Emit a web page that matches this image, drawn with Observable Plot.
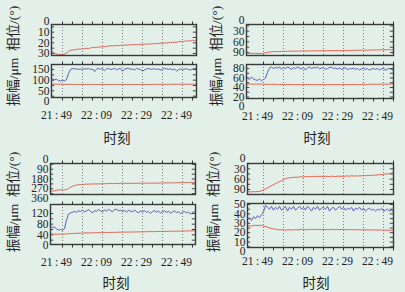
<!DOCTYPE html>
<html><head><meta charset="utf-8">
<script src="https://cdn.jsdelivr.net/npm/d3@7"></script>
<script src="https://cdn.jsdelivr.net/npm/@observablehq/plot@0.6"></script>
<style>
html,body{margin:0;padding:0;background:#e3efe9;}
#chart{position:relative;width:405px;height:292px;overflow:hidden;background:#e3efe9;font-family:"Liberation Serif","Noto Sans CJK SC",serif;color:#222;}
#chart svg{position:absolute;overflow:visible;}
.ytitle{position:absolute;white-space:nowrap;font-size:13.5px;transform:translate(-50%,-50%) rotate(-90deg);}
.xtitle{position:absolute;white-space:nowrap;font-size:13.5px;transform:translate(-50%,-50%);}
</style></head><body><div id="chart"></div>
<script>
// minutes after 21:49
const minutes = [-5,-4,-3,-2,-1,0,1,2,3,4,5,6,7,8,9,10,11,12,13,14,15,16,17,18,19,20,21,22,23,24,25,26,27,28,29,30,31,32,33,34,35,36,37,38,39,40,41,42,43,44,45,46,47,48,49,50,51,52,53,54,55,56,57,58,59,60,61,62,63,64,65,66,67,68,69,70];
const timeTickMinutes = [0,20,40,60];
const timeTickLabels = ["21\u2009:\u200949","22\u2009:\u200909","22\u2009:\u200929","22\u2009:\u200949"];
const tickMinutes = [3,8,13,18,23,28,33,38,43,48,53,58,63,68];
const gridMinutes = [3,13,23,33,43,53,63];

const yTitle = "振幅/μm\u2002相位/(°)";
const xTitle = "时刻";

// Panel 1
const p1PhaseTicks = [0,10,20,30];
const p1AmpTicks = [0,50,100,150];
const p1Phase = [28,28.5,27.8,28.2,29.5,
 30.5,31,30.8,31,30.6,29.5,28,27,26.5,26.8,
 26.2,25.8,26,25.5,25.6,25.1,25.3,24.8,24.3,24.6,
 24,24.2,23.7,23.9,23.4,23.5,23,22.6,23,22.7,
 22.4,22.8,22.2,22.5,22,22.3,21.8,22.1,21.6,21.9,
 21.5,21.8,21.3,21.6,21.1,21.4,20.9,21.2,20.7,20.9,
 20.5,20.8,20.2,20.6,20,20.3,19.8,19.5,19.9,19.3,
 19.5,19,18.6,19,18.3,18.6,18,18.3,17.6,17.9,17.4];
const p1AmpBlue = [108,105,110,106,102,
 104,98,96,100,97,103,132,150,155,152,
 154,150,153,148,154,152,155,150,153,140,
 152,155,151,154,145,153,155,150,152,156,
 148,153,155,142,152,154,156,151,153,147,
 155,152,150,143,148,153,155,151,152,154,
 150,153,147,152,155,153,150,154,148,152,
 143,150,153,148,151,154,150,147,152,155,153];
const p1AmpRed = [82,82,81.5,82,81.5,
 81,81,80.5,81,80.5,80,80.5,80,80.5,80,
 79.5,80,80.5,80,79.5,80,80,79.5,80,80.5,
 80,79.5,80,80,80.5,80,79.5,80,80,79.5,
 80,80.5,80,79.5,80,80,80.5,80,79.5,80,
 80,79.5,80,80.5,80,80,79.5,80,80.5,80,
 80,80.5,80,80,80.5,80.5,80,80.5,81,80.5,
 80.5,81,80.5,81,81,80.5,81,81,81.5,81,81];

// Panel 2
const p2PhaseTicks = [0,30,60,90];
const p2AmpTicks = [0,20,40,60,80];
const p2Phase = [92,92.5,92,93,92.5,
 93,92.5,93,92,91,89.5,88.5,88,87.5,87.8,
 87.2,87.5,86.8,87,86.5,86.8,86.2,86.5,86,86.3,
 85.8,86,85.5,85.9,85.4,85.7,85.2,85.5,85,85.4,
 85,85.3,84.8,85.2,84.7,85,84.6,84.9,84.5,84.8,
 84.4,84.7,84.2,84.6,84,84.4,83.8,84.2,83.7,84,
 83.5,83.9,83.3,83.7,83.1,83.5,82.9,83.3,82.7,83.1,
 82.6,83,82.4,82.8,82.2,82.6,82,82.4,81.8,82.2,81.8];
const p2AmpBlue = [60,57,62,58,56,
 55,58,54,57,60,72,81,83,80,82,
 81,83,79,82,80,83,81,78,82,80,
 83,81,79,82,77,81,83,80,82,81,
 83,79,81,82,78,80,82,83,80,81,
 79,81,78,80,82,77,80,79,81,78,
 80,77,79,81,78,80,76,79,80,78,
 80,77,79,81,76,79,80,78,76,79,80];
const p2AmpRed = [47,47.5,47,47,47.5,
 47,47.5,47,47,46.5,47,46.5,46.5,47,46.5,
 46.5,46,46.5,46.5,46,46.5,46.5,46,46.5,46,
 46.5,46,46,46.5,46,46,46.5,46,46,46.5,
 46,46,46.5,46,46,46.5,46,46.5,46,46,
 46.5,46,46,46.5,46,46.5,46.5,46,46.5,46.5,
 46,46.5,46.5,47,46.5,46.5,47,46.5,47,47,
 46.5,47,47,47.5,47,47,47.5,47,47.5,47.5,47];

// Panel 3
const p3PhaseTicks = [0,90,180,270,360];
const p3AmpTicks = [0,40,80,120];
const p3Phase = [292,290,294,291,289,
 284,281,279,282,280,276,268,257,247,240,
 236,233,231,229,230,227,228,226,227,225,
 226,224,225,223,224,222,223,221,223,222,
 221,222,220,221,219,221,220,219,221,220,
 219,220,218,220,219,218,219,217,219,218,
 217,218,216,218,217,215,217,216,214,216,
 215,213,215,214,212,214,213,211,212,210,211];
const p3AmpBlue = [72,68,75,66,70,
 62,58,60,57,63,95,118,122,125,128,
 124,130,127,133,125,130,134,128,122,131,
 128,135,130,126,133,129,136,131,127,134,
 136,130,133,128,131,125,132,129,126,133,
 127,122,130,126,131,124,128,120,127,131,
 125,129,122,127,130,124,128,121,126,130,
 123,127,119,125,128,122,126,118,124,127,125];
const p3AmpRed = [43,43.5,42.5,43,42,
 42.5,42,43,42.5,43,43.5,44,44.5,45,45.5,
 46,46,46.5,46.5,47,47,47.5,47,47.5,48,
 48,48.5,48,48.5,49,48.5,49,49,49.5,49,
 49.5,50,49.5,50,50,50.5,50,50.5,51,50.5,
 51,51,51.5,51,51.5,52,51.5,52,52,52.5,
 52,52.5,53,52.5,53,53,53.5,53,53.5,54,
 53.5,54,54,54.5,54,54.5,55,54.5,55,55,55.5];

// Panel 4
const p4PhaseTicks = [0,30,60,90];
const p4AmpTicks = [0,10,20,30,40,50];
const p4Phase = [97,96.5,97,96,96.5,
 96,95.5,94,91,88,85,82,79,76,73,
 70,67,64,61,58.5,57,56,55.5,55,54,
 54.5,53.5,53,54,52.5,53,52,53,52.5,51.5,
 52.5,51.5,52,53,51.5,52,52.5,51,52,52.5,
 51,52,51.5,52.5,51,50.5,51.5,50,51,50.5,
 51,50,50.5,49.5,50,49,49.5,48.5,49,48,
 47.5,47,46.5,46,45,44.5,43.5,42.5,41.5,41,40.5];
const p4AmpBlue = [34,36,33,37,35,
 38,36,39,42,49,47,45,48,44,47,
 45,48,44,46,48,43,47,45,48,44,
 46,48,45,47,44,48,46,43,47,45,
 48,44,46,47,45,48,43,46,47,44,
 46,48,45,47,44,46,45,47,43,46,
 45,47,44,46,43,45,46,44,45,43,
 45,44,46,43,44,45,43,44,42,44,43];
const p4AmpRed = [27,27.5,27,27.5,28,
 27.5,28,27.5,27,26.5,26,25,24.5,24,23.5,
 23.5,23,23.2,23,22.8,23,23.2,22.8,23,23.3,
 23,23.2,23.5,23.3,23,23.4,23.6,23.3,23.5,23.2,
 23.4,23.6,23.3,23.5,23.2,23.4,23.3,23.6,23.4,23.2,
 23.4,23.2,23.5,23.3,23.1,23.3,23.4,23.2,23,23.3,
 23.1,23.3,23,23.2,22.9,23.1,23,22.8,23,22.9,
 22.8,23,22.7,22.9,22.6,22.8,22.7,22.5,22.8,22.6,22.7];

const RED = "#e4604f", BLUE = "#5a5fb4";
const FONT = "'Liberation Serif','Noto Sans CJK SC',serif";

const panels = [
 {box:[0,0,200,146], xDomain:[-2.5,70], xLabelPad:13.5, ytitle:[12,56], xtitle:[117,137],
  upper:{frame:[51,196,24,55], yDomain:[0,30], yPix:[21,53], ticks:p1PhaseTicks, series:[[p1Phase,RED]]},
  lower:{frame:[51,196,64,97], yDomain:[0,150], yPix:[101,69], ticks:p1AmpTicks, series:[[p1AmpRed,RED],[p1AmpBlue,BLUE]]}},
 {box:[200,0,205,146], xDomain:[-5.5,68], xLabelPad:13.5, ytitle:[215,56], xtitle:[317,137],
  upper:{frame:[246,393,24,55], yDomain:[0,90], yPix:[20,52], ticks:p2PhaseTicks, series:[[p2Phase,RED]]},
  lower:{frame:[246,393,64,98], yDomain:[0,80], yPix:[106,68], ticks:p2AmpTicks, series:[[p2AmpRed,RED],[p2AmpBlue,BLUE]]}},
 {box:[0,146,200,146], xDomain:[-3,69.5], xLabelPad:13.5, ytitle:[12,202], xtitle:[116,282],
  upper:{frame:[50,195,163,194], yDomain:[0,360], yPix:[159,198], ticks:p3PhaseTicks, series:[[p3Phase,RED]]},
  lower:{frame:[50,195,204,244], yDomain:[0,120], yPix:[245,213], ticks:p3AmpTicks, series:[[p3AmpRed,RED],[p3AmpBlue,BLUE]]}},
 {box:[200,146,205,146], xDomain:[-5,68], xLabelPad:9.5, ytitle:[212,202], xtitle:[316,282],
  upper:{frame:[247,393,163,194], yDomain:[0,90], yPix:[158,189], ticks:p4PhaseTicks, series:[[p4Phase,RED]]},
  lower:{frame:[247,393,203,247], yDomain:[0,50], yPix:[251,204], ticks:p4AmpTicks, series:[[p4AmpRed,RED],[p4AmpBlue,BLUE]]}}
];

const chart = document.getElementById("chart");

function minorOf(ticks) {
  const out = [...ticks];
  d3.pairs(ticks).forEach(([a,b]) => out.push((a+b)/2));
  return out;
}

function makeSub(panel, sub, isLower) {
  const [bx, by, bw, bh] = panel.box;
  const [fx0, fx1, fy0, fy1] = sub.frame;
  const [xd0, xd1] = panel.xDomain;
  const minor = minorOf(sub.ticks);
  const marks = [
    Plot.gridX(gridMinutes, {stroke:"#555", strokeOpacity:0.75, strokeDasharray:"1,2", strokeWidth:1}),
    Plot.ruleY(minor, {y:d=>d, x1:xd0, x2:xd0+1.6, stroke:"#444", clip:true}),
    Plot.ruleY(minor, {y:d=>d, x1:xd1-1.6, x2:xd1, stroke:"#444", clip:true}),
    ...sub.series.map(([vals, color]) => Plot.line(minutes.map((t,i)=>({t, v:vals[i]})), {x:"t", y:"v", stroke:color, strokeWidth:1, clip:true})),
    Plot.frame({stroke:"#3a3a3a", strokeWidth:1.4}),
    Plot.axisX({anchor:"top", ticks:tickMinutes, tickSize:3.5, tickFormat:()=>"", label:null, stroke:"#333"}),
    Plot.axisY({anchor:"left", ticks:sub.ticks, tickSize:0, tickPadding:2, label:null, fill:"#222", fontSize:11.5})
  ];
  if (isLower) {
    marks.push(Plot.axisX({anchor:"bottom", ticks:tickMinutes, tickSize:3.5, tickFormat:()=>"", label:null, stroke:"#333"}));
    marks.push(Plot.axisX({anchor:"bottom", ticks:timeTickMinutes, tickSize:0, tickPadding:panel.xLabelPad,
      tickFormat:d=>timeTickLabels[timeTickMinutes.indexOf(d)], label:null, fill:"#222", fontSize:11.5}));
  }
  const svg = Plot.plot({
    width:bw, height:bh,
    marginLeft:fx0-bx, marginRight:bx+bw-fx1, marginTop:fy0-by, marginBottom:by+bh-fy1,
    x:{domain:[xd0, xd1]},
    y:{domain:sub.yDomain, range:[sub.yPix[0]-by, sub.yPix[1]-by]},
    style:{background:"transparent", fontFamily:FONT, fontSize:"12px", color:"#222", overflow:"visible"},
    marks
  });
  svg.style.left = bx + "px";
  svg.style.top = by + "px";
  chart.append(svg);
}

panels.forEach(p => {
  makeSub(p, p.upper, false);
  makeSub(p, p.lower, true);
  const yt = document.createElement("div");
  yt.className = "ytitle"; yt.textContent = yTitle;
  yt.style.left = p.ytitle[0] + "px"; yt.style.top = p.ytitle[1] + "px";
  chart.append(yt);
  const xt = document.createElement("div");
  xt.className = "xtitle"; xt.textContent = xTitle;
  xt.style.left = p.xtitle[0] + "px"; xt.style.top = p.xtitle[1] + "px";
  chart.append(xt);
});
</script></body></html>
